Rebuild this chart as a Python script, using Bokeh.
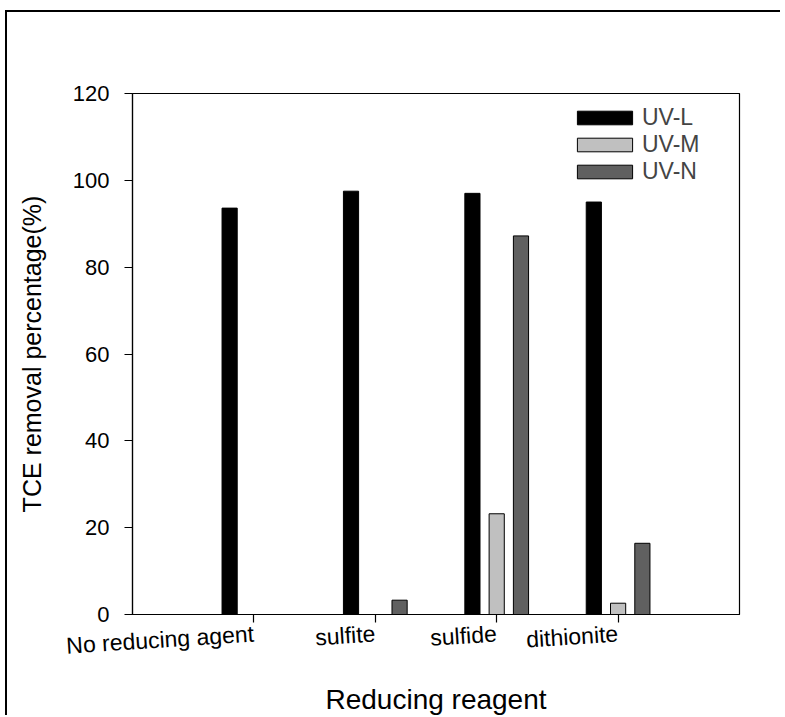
from bokeh.plotting import figure
from bokeh.models import FactorRange, ColumnDataSource, Legend, LegendItem, FixedTicker
from bokeh.transform import dodge
from bokeh.embed import file_html
from bokeh.resources import INLINE

categories = ["No reducing agent", "sulfite", "sulfide", "dithionite"]
uv_l = [93.6, 97.5, 97.0, 95.0]
uv_m = [0.0, 0.0, 23.2, 2.6]
uv_n = [0.0, 3.3, 87.2, 16.4]
series_names = ["UV-L", "UV-M", "UV-N"]
y_ticks = [0, 20, 40, 60, 80, 100, 120]

FONT = "Liberation Sans"

src = ColumnDataSource(data=dict(cat=categories, l=uv_l, m=uv_m, n=uv_n))

p = figure(width=775, height=705, output_backend="svg", toolbar_location=None,
           x_range=FactorRange(factors=categories, range_padding=0.5,
                               range_padding_units="absolute"),
           y_range=(0, 120),
           min_border_left=125, min_border_right=43, min_border_top=81, min_border_bottom=101)
p.styles = {"border-left": "2px solid black", "border-top": "2px solid black",
            "margin-left": "5px", "margin-top": "10px"}

p.xgrid.visible = False
p.ygrid.visible = False
p.outline_line_color = "black"
p.outline_line_width = 1.2

r1 = p.vbar(x=dodge("cat", -0.2, range=p.x_range), top="l", width=0.125, source=src,
            fill_color="black", line_color="black", line_width=1)
r2 = p.vbar(x=dodge("cat", 0.0, range=p.x_range), top="m", width=0.125, source=src,
            fill_color="#c0c0c0", line_color="black", line_width=1)
r3 = p.vbar(x=dodge("cat", 0.2, range=p.x_range), top="n", width=0.125, source=src,
            fill_color="#606060", line_color="black", line_width=1)

legend = Legend(items=[LegendItem(label=series_names[0], renderers=[r1]),
                       LegendItem(label=series_names[1], renderers=[r2]),
                       LegendItem(label=series_names[2], renderers=[r3])],
                location=(438, 429), glyph_width=69, glyph_height=17,
                label_height=24, spacing=0, padding=0, margin=0,
                label_standoff=3, border_line_color=None,
                background_fill_alpha=0,
                label_text_font=FONT, label_text_font_size="23px")
p.add_layout(legend)

p.yaxis.ticker = FixedTicker(ticks=y_ticks)
for ax in (p.xaxis[0], p.yaxis[0]):
    ax.axis_line_color = "black"
    ax.axis_line_width = 1.2
    ax.major_tick_line_color = "black"
    ax.major_tick_line_width = 1.2
    ax.major_tick_in = 0
    ax.major_tick_out = 8
    ax.minor_tick_line_color = None
    ax.major_label_text_font = FONT
    ax.major_label_text_font_size = "22px"
    ax.major_label_text_color = "black"
    ax.axis_label_text_font = FONT
    ax.axis_label_text_font_style = "normal"
    ax.axis_label_text_color = "black"

p.xaxis.axis_label = "Reducing reagent"
p.yaxis.axis_label = "TCE removal percentage(%)"
p.xaxis.axis_label_text_font_size = "28px"
p.yaxis.axis_label_text_font_size = "25px"
p.xaxis.axis_label_text_line_height = 0.85
p.xaxis.major_label_text_line_height = 1.0
p.xaxis.major_label_orientation = 0.065
p.xaxis.major_label_text_font_size = "23px"
p.xaxis.major_label_standoff = 11
p.xaxis.axis_label_standoff = 9
p.yaxis.axis_label_standoff = 24
p.yaxis.major_label_standoff = 15

open("out.html", "w").write(file_html(p, INLINE))
